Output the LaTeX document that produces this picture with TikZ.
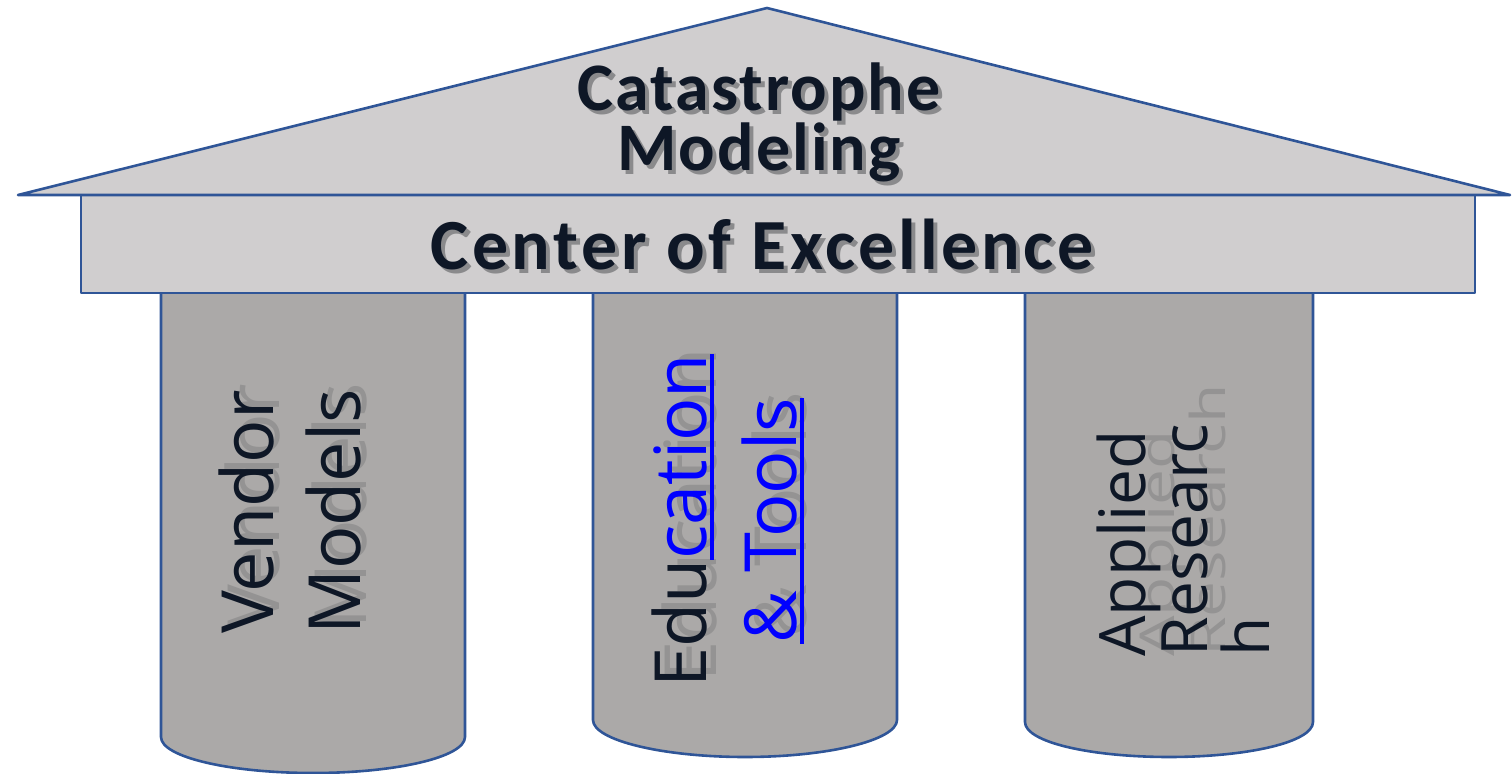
\documentclass[tikz,border=0pt]{standalone}
\usepackage{fontspec}
\setmainfont{Open Sans}
\newfontfamily\rooffont[LetterSpace=3]{Carlito}
\newfontfamily\beamfont[LetterSpace=5]{Carlito}
\usetikzlibrary{positioning}

\definecolor{roofgray}{RGB}{208,206,207}
\definecolor{pillargray}{RGB}{171,169,168}
\definecolor{edgeblue}{RGB}{47,85,151}
\definecolor{inkdark}{RGB}{14,23,38}
\definecolor{shadowgray}{RGB}{138,138,140}
\definecolor{ghostgray}{RGB}{148,147,147}
\definecolor{linkblue}{RGB}{0,0,255}

% blue word with a thick underline
\newcommand\blueul[1]{{\color{linkblue}\setbox0\hbox{#1}\rlap{\rule[-3.5pt]{\wd0}{1.7pt}}\box0}}

\begin{document}
\begin{tikzpicture}[x=0.5pt,y=-0.5pt,
   edge/.style = {draw=edgeblue, line width=1.3pt, line join=round},
 pillar/.style = {edge, fill=pillargray},
   head/.style = {text=inkdark, align=center, inner sep=0pt},
  label/.style = {rotate=90, text=inkdark, align=center, inner sep=0pt},
  ghost/.style = {text=ghostgray}
                        ]
\useasboundingbox (0,0) rectangle (1512,774);
% pillars first, the beam covers their tops
\foreach \xl/\xr/\ys/\yb in {161/465/737/773, 593/897/720/757, 1025/1313/722/757}
  \draw [pillar] (\xl,285) -- (\xl,\ys)
     .. controls (\xl,\ys+20) and ({\xl+0.45*(\xr-\xl)/2},\yb) .. ({(\xl+\xr)/2},\yb)
     .. controls ({\xr-0.45*(\xr-\xl)/2},\yb) and (\xr,\ys+20) .. (\xr,\ys) -- (\xr,285) -- cycle;
% beam and roof
\draw [edge, fill=roofgray] (81,195) rectangle (1475,293);
\draw [edge, fill=roofgray] (18,195) -- (767,8) -- (1510,195) -- cycle;
% roof and beam texts with their shadow
\node (roofsh) [head, text=shadowgray, font=\rooffont\bfseries\fontsize{34}{30}\selectfont] at (763,126) {Catastrophe\\Modeling};
\node (roof)   [head, font=\rooffont\bfseries\fontsize{34}{30}\selectfont] at (759,122) {Catastrophe\\Modeling};
\node (beamsh) [head, text=shadowgray, font=\beamfont\bfseries\fontsize{36}{36}\selectfont, anchor=base] at (766,274) {Center of Excellence};
\node (beam)   [head, font=\beamfont\bfseries\fontsize{36}{36}\selectfont, anchor=base] at (762,270) {Center of Excellence};
% pillar texts, read from bottom to top
\node (p1sh) [label, ghost, font=\fontsize{36}{43.5}\selectfont] at (296,506) {Vendor\\Models};
\node (p1)   [label, font=\fontsize{36}{43.5}\selectfont] at (290,512) {Vendor\\Models};
\node (p2sh) [label, ghost, font=\fontsize{36}{45}\selectfont] at (734,515) {Education\\\&~Tools};
\node (p2)   [label, font=\fontsize{36}{45}\selectfont] at (728,521)
      {Edu\blueul{cation}\\\blueul{\&~Tools}};
\node (p3sh) [label, ghost, yscale=0.75, align=left, anchor=north west,
              font=\fontsize{32}{34}\selectfont] at (1138,657) {Applied\\Research};
\node (p3)   [label, align=left, anchor=north west,
              font=\fontsize{32}{31}\selectfont] at (1096,657) {Applied\\Researc\\h};
\end{tikzpicture}
\end{document}
